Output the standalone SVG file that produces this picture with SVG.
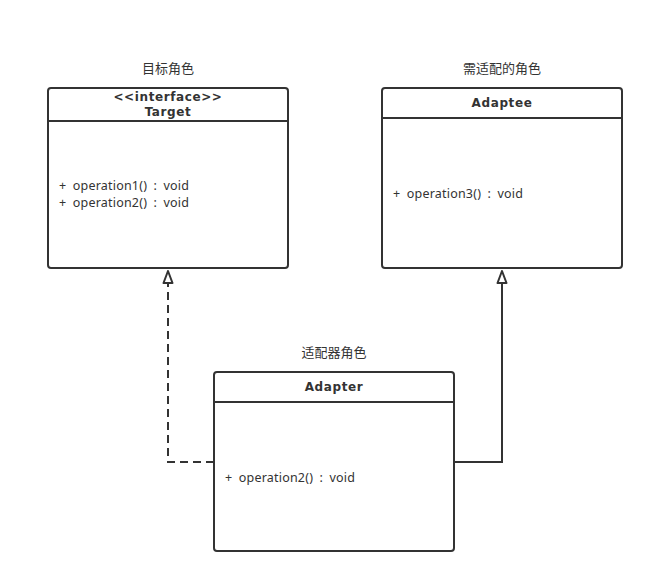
<svg xmlns="http://www.w3.org/2000/svg" width="654" height="584" viewBox="0 0 654 584">
<style>
.box{fill:#fff;stroke:#333;stroke-width:2}
.ln{stroke:#333;stroke-width:2;fill:none}
.t{font-family:"Noto Sans","Noto Sans CJK SC",sans-serif;font-size:12.5px;fill:#333;word-spacing:3px;letter-spacing:0.2px}
.b{font-family:"DejaVu Sans","Noto Sans",sans-serif;font-size:12px;font-weight:bold;fill:#333;letter-spacing:0.6px}
.c{font-family:"Noto Sans CJK SC",sans-serif;font-size:13px;fill:#333}
</style>
<rect width="654" height="584" fill="#fff"/>
<g id="connectors">
<path class="ln" d="M214,462 H168 V283" stroke-dasharray="8,5"/>
<polygon points="168,271 163.5,283 172.5,283" fill="#fff" stroke="#333" stroke-width="2" stroke-linejoin="round"/>
<path class="ln" d="M454,462 H502 V283"/>
<polygon points="502,271 497.5,283 506.5,283" fill="#fff" stroke="#333" stroke-width="2" stroke-linejoin="round"/>
</g>
<g id="target">
<text class="c" x="168" y="73" text-anchor="middle">目标角色</text>
<rect class="box" x="48" y="88" width="240" height="180" rx="3"/>
<line class="ln" x1="48" y1="121" x2="288" y2="121"/>
<text class="b" x="168" y="101" text-anchor="middle" letter-spacing="0.2">&lt;&lt;interface&gt;&gt;</text>
<text class="b" x="168" y="116" text-anchor="middle">Target</text>
<text class="t" x="59" y="190">+ operation1() : void</text>
<text class="t" x="59" y="206.5">+ operation2() : void</text>
</g>
<g id="adaptee">
<text class="c" x="502" y="73" text-anchor="middle">需适配的角色</text>
<rect class="box" x="382" y="88" width="240" height="180" rx="3"/>
<line class="ln" x1="382" y1="118" x2="622" y2="118"/>
<text class="b" x="502" y="107" text-anchor="middle">Adaptee</text>
<text class="t" x="393" y="198">+ operation3() : void</text>
</g>
<g id="adapter">
<text class="c" x="334" y="357" text-anchor="middle">适配器角色</text>
<rect class="box" x="214" y="372" width="240" height="179" rx="3"/>
<line class="ln" x1="214" y1="402" x2="454" y2="402"/>
<text class="b" x="334" y="391" text-anchor="middle">Adapter</text>
<text class="t" x="225" y="482">+ operation2() : void</text>
</g>
</svg>
